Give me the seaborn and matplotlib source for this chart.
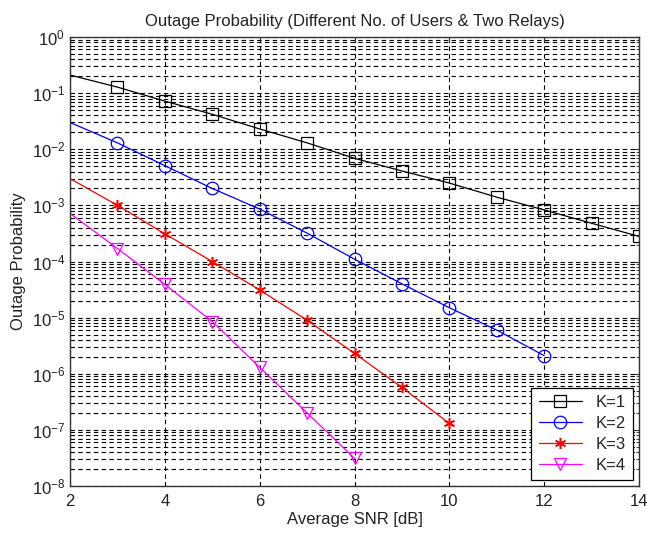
import numpy as np
import pandas as pd
import matplotlib
matplotlib.use("Agg")
import matplotlib.pyplot as plt
import seaborn as sns
from matplotlib.ticker import FixedLocator, NullFormatter, LogFormatterSciNotation

snr_k1 = [2, 3, 4, 5, 6, 7, 8, 9, 10, 11, 12, 13, 14]
pout_k1 = [0.21, 0.128, 0.072, 0.042, 0.023, 0.013, 0.0069, 0.0041, 0.0025, 0.0014, 0.00083, 0.00048, 0.00028]
snr_k2 = [2, 3, 4, 5, 6, 7, 8, 9, 10, 11, 12]
pout_k2 = [0.030, 0.013, 0.0051, 0.0020, 0.00086, 0.00032, 0.00011, 4.0e-5, 1.5e-5, 6.0e-6, 2.1e-6]
snr_k3 = [2, 3, 4, 5, 6, 7, 8, 9, 10]
pout_k3 = [0.0030, 0.0010, 0.00031, 1.0e-4, 3.1e-5, 9.0e-6, 2.3e-6, 5.7e-7, 1.3e-7]
snr_k4 = [2, 3, 4, 5, 6, 7, 8]
pout_k4 = [7.2e-4, 1.7e-4, 3.9e-5, 8.5e-6, 1.3e-6, 2.0e-7, 3.1e-8]

labels = ["K=1", "K=2", "K=3", "K=4"]
colors = ["#000000", "#0000FF", "#FF0000", "#FF00FF"]
markers = ["s", "o", (6, 2, 0), "v"]
xticks = [2, 4, 6, 8, 10, 12, 14]
ydecades = list(range(-8, 1))

sns.set_style("white")
plt.rcParams['font.family'] = ['Liberation Sans', 'DejaVu Sans']
plt.rcParams['mathtext.fontset'] = 'custom'
plt.rcParams['mathtext.rm'] = 'Liberation Sans'
plt.rcParams['mathtext.it'] = 'Liberation Sans'

fig = plt.figure(figsize=(6.47, 5.33), dpi=100)
ax = fig.add_axes([70/647, 47/533, 569/647, 449/533])

series = [(snr_k1, pout_k1), (snr_k2, pout_k2), (snr_k3, pout_k3), (snr_k4, pout_k4)]
for (x, y), lab, c, m in zip(series, labels, colors, markers):
    df = pd.DataFrame({"snr": x, "p": y})
    is_star = isinstance(m, tuple)
    sns.lineplot(data=df, x="snr", y="p", ax=ax, color=c, lw=0.9,
                 marker=m, markersize=8 if is_star else 9,
                 markerfacecolor=c if is_star else "none",
                 markeredgecolor=c, markeredgewidth=1.1 if is_star else 0.9,
                 markevery=slice(1, None), label=lab)

ax.set_yscale("log")
ax.set_xlim(2, 14)
ax.set_ylim(1e-8, 1)
ax.xaxis.set_major_locator(FixedLocator(xticks))
major_y = [10.0 ** d for d in ydecades]
minor_y = [s * 10.0 ** d for d in ydecades[:-1] for s in range(2, 10)]
ax.yaxis.set_major_locator(FixedLocator(major_y))
ax.yaxis.set_major_formatter(LogFormatterSciNotation())
ax.yaxis.set_minor_locator(FixedLocator(minor_y))
ax.yaxis.set_minor_formatter(NullFormatter())
ax.grid(True, which="major", axis="both", color="black", linestyle=(0, (4, 3)), lw=0.8)
ax.grid(True, which="minor", axis="y", color="black", linestyle=(0, (4, 3)), lw=0.8)
ax.set_axisbelow(True)
for sp in ax.spines.values():
    sp.set_color("#333333")
    sp.set_linewidth(1.0)
ax.tick_params(axis="both", which="both", direction="in", top=True, right=True,
               labelsize=12, colors="#333333", labelcolor="#222222")
ax.tick_params(axis="x", pad=6)
ax.set_xlabel("Average SNR [dB]", fontsize=12, color="#222222", labelpad=2)
ax.set_ylabel("Outage Probability", fontsize=12, color="#222222", labelpad=4)
ax.set_title("Outage Probability (Different No. of Users & Two Relays)", fontsize=12,
             color="#222222", pad=8)

leg = ax.legend(loc="lower right", fontsize=12, frameon=True, fancybox=False,
                edgecolor="black", handlelength=2.6, borderaxespad=0.35,
                labelspacing=0.35, borderpad=0.45)
leg.get_frame().set_linewidth(0.9)
leg.get_frame().set_alpha(1)

fig.savefig("out.png", dpi=100, facecolor="white")
